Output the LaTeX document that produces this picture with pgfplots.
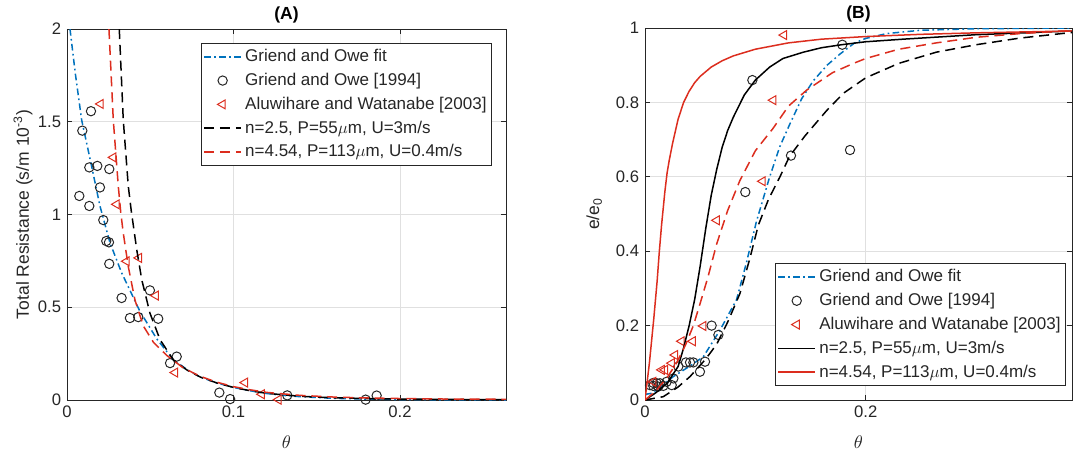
\documentclass[border=0pt]{standalone}
\usepackage{fontspec}
\setmainfont{Liberation Sans}
\usepackage{pgfplots}
\pgfplotsset{compat=1.18}
\definecolor{mblue}{RGB}{0,114,189}
\definecolor{mred}{RGB}{220,45,30}
\definecolor{mgray}{RGB}{38,38,38}
\definecolor{gridc}{RGB}{224,224,224}
\pgfplotsset{
  every axis title/.style={at={(axis description cs:0.5,1.038)}, anchor=center,
    font=\fontsize{10.5}{12}\selectfont\bfseries},
  myaxis/.style={
    scale only axis,
    axis line style={mgray,line width=0.5pt},
    tick style={mgray,line width=0.5pt},
    tick align=inside,
    major tick length=3pt,
    grid=major,
    major grid style={gridc,line width=0.5pt},
    ticklabel style={font=\fontsize{10}{12}\selectfont, text=mgray},
    /pgf/number format/assume math mode=true,
    label style={font=\fontsize{10.5}{12}\selectfont, text=mgray},
    legend cell align=left,
    legend style={font=\fontsize{10.2}{12}\selectfont, draw=mgray, line width=0.5pt, fill=white,
      inner xsep=1pt, inner ysep=1.5pt, row sep=1.4pt, text=mgray},
    legend image code/.code={\draw[mark repeat=2,mark phase=2,#1] plot coordinates {(0cm,0cm) (0.39cm,0cm) (0.78cm,0cm)};},
    clip mode=individual,
  },
  fitline/.style={mblue, line width=0.9pt, dash pattern=on 4pt off 2pt on 1pt off 2pt},
  circ/.style={only marks, mark=o, mark size=2.8pt, mark options={draw=mgray,line width=0.6pt}},
  tri/.style={only marks, mark=triangle, mark size=3.1pt, mark options={draw=mred,line width=0.6pt,rotate=90}},
}
\begin{document}
\begin{tikzpicture}
\path[use as bounding box] (-40.2pt,-34.2pt) rectangle (604.2pt,240pt);
% ---------------- (A) ----------------
\begin{axis}[myaxis,
  at={(0pt,0pt)}, anchor=south west,
  width=263.4pt, height=222.6pt,
  xmin=0, xmax=0.2637, ymin=0, ymax=2,
  xtick={0,0.1,0.2}, ytick={0,0.5,1,1.5,2},
  title={(A)},
  xlabel={$\theta$}, xlabel style={at={(axis description cs:0.5,-0.113)},anchor=center},
  ylabel={Total Resistance (s/m 10\textsuperscript{-3})},
  ylabel style={at={(axis description cs:-0.100,0.5)},anchor=center},
  legend style={at={(axis description cs:0.968,0.962)},anchor=north east},
]
\addplot[fitline] coordinates {
(0.0018,2.0) (0.005,1.76) (0.0088,1.51) (0.0148,1.26) (0.0198,1.046) (0.0258,0.848)
(0.0328,0.686) (0.0438,0.478) (0.0539,0.33) (0.0639,0.216) (0.072,0.165) (0.08,0.124)
(0.09,0.092) (0.1,0.068) (0.11,0.05) (0.12,0.035) (0.13,0.025) (0.14,0.018) (0.16,0.009)
(0.18,0.005) (0.2,0.002) (0.23,0.001) (0.2637,0.0)};
\addlegendentry{Griend and Owe fit}
\addplot[circ] coordinates {
(0.0092,1.452) (0.0144,1.557) (0.0134,1.254) (0.0182,1.262) (0.0254,1.245) (0.0198,1.146)
(0.0074,1.10) (0.0134,1.046) (0.0218,0.97) (0.0236,0.857) (0.0252,0.85) (0.0254,0.734)
(0.0328,0.55) (0.0498,0.591) (0.0378,0.442) (0.0428,0.447) (0.0548,0.438) (0.0659,0.234)
(0.0619,0.199) (0.0915,0.040) (0.098,0.005) (0.1323,0.025) (0.1794,0.002) (0.186,0.024)};
\addlegendentry{Griend and Owe [1994]}
\addplot[tri] coordinates {
(0.0202,1.596) (0.0278,1.308) (0.0298,1.055) (0.0358,0.748) (0.0432,0.766) (0.0533,0.563)
(0.0649,0.148) (0.1069,0.094) (0.117,0.031) (0.127,0.002)};
\addlegendentry{Aluwihare and Watanabe [2003]}
\addplot[black, line width=0.9pt, dash pattern=on 6pt off 3.5pt] coordinates {
(0.0314,2.0) (0.0338,1.51) (0.0368,1.154) (0.0386,1.02) (0.0419,0.81) (0.0449,0.649)
(0.0498,0.469) (0.0559,0.325) (0.0639,0.216) (0.072,0.162) (0.08,0.124) (0.09,0.092)
(0.1,0.068) (0.11,0.05) (0.12,0.036) (0.14,0.02) (0.16,0.012) (0.18,0.008) (0.2,0.005)
(0.23,0.003) (0.2637,0.002)};
\addlegendentry{n=2.5, P=55$\mu$m, U=3m/s}
\addplot[mred, line width=0.9pt, dash pattern=on 6pt off 3.5pt] coordinates {
(0.0252,2.0) (0.0278,1.51) (0.0308,1.154) (0.0323,1.01) (0.0338,0.90) (0.0368,0.72)
(0.0408,0.54) (0.0458,0.40) (0.052,0.31) (0.06,0.24) (0.07,0.172) (0.08,0.128) (0.09,0.096)
(0.1,0.072) (0.11,0.055) (0.12,0.041) (0.14,0.025) (0.16,0.016) (0.18,0.011) (0.2,0.008)
(0.23,0.005) (0.2637,0.004)};
\addlegendentry{n=4.54, P=113$\mu$m, U=0.4m/s}
\end{axis}
% ---------------- (B) ----------------
\begin{axis}[myaxis,
  at={(346.8pt,0pt)}, anchor=south west,
  width=256.2pt, height=223.2pt,
  xmin=0, xmax=0.387, ymin=0, ymax=1,
  xtick={0,0.2}, ytick={0,0.2,0.4,0.6,0.8,1},
  title={(B)},
  xlabel={$\theta$}, xlabel style={at={(axis description cs:0.5,-0.113)},anchor=center},
  ylabel={e/e\textsubscript{0}},
  ylabel style={at={(axis description cs:-0.119,0.5)},anchor=center},
  legend style={at={(axis description cs:0.986,0.038)},anchor=south east},
]
\addplot[fitline] coordinates {
(0,0.015) (0.006,0.018) (0.0106,0.027) (0.0257,0.063) (0.04,0.09) (0.0528,0.116) (0.068,0.188)
(0.083,0.27) (0.092,0.37) (0.101,0.48) (0.113,0.60) (0.122,0.68) (0.131,0.74) (0.142,0.81)
(0.1525,0.858) (0.165,0.9) (0.1767,0.93) (0.19,0.96) (0.2,0.972) (0.219,0.985) (0.25,0.994)
(0.3,0.998) (0.387,1.0)};
\addlegendentry{Griend and Owe fit}
\addplot[circ] coordinates {
(0.0973,0.86) (0.1323,0.657) (0.1858,0.672) (0.0909,0.559) (0.1788,0.955) (0.0604,0.20)
(0.0665,0.175) (0.0544,0.103) (0.0498,0.076) (0.0438,0.101) (0.0408,0.101) (0.0371,0.101)
(0.0302,0.09) (0.0257,0.058) (0.0242,0.04) (0.0196,0.049) (0.0166,0.038) (0.0136,0.045)
(0.012,0.036) (0.0106,0.045) (0.0075,0.038) (0.0075,0.046) (0.0045,0.04)};
\addlegendentry{Griend and Owe [1994]}
\addplot[tri] coordinates {
(0.126,0.981) (0.1163,0.806) (0.1066,0.588) (0.065,0.483) (0.0528,0.199) (0.0432,0.158)
(0.0332,0.158) (0.0272,0.121) (0.0242,0.099) (0.0181,0.081) (0.0151,0.081) (0.0075,0.049)};
\addlegendentry{Aluwihare and Watanabe [2003]}
\addplot[black, line width=0.9pt] coordinates {
(0,0) (0.01,0.02) (0.02,0.045) (0.03,0.09) (0.035,0.14) (0.04,0.2) (0.045,0.27) (0.05,0.36)
(0.055,0.46) (0.06,0.55) (0.065,0.62) (0.07,0.68) (0.075,0.725) (0.08,0.76) (0.09,0.82)
(0.1,0.86) (0.113,0.895) (0.125,0.918) (0.1435,0.935) (0.16,0.947) (0.178,0.955) (0.2,0.963)
(0.234,0.97) (0.3,0.982) (0.387,0.992)};
\addlegendentry{n=2.5, P=55$\mu$m, U=3m/s}
\addplot[mred, line width=0.9pt] coordinates {
(0,0) (0.004,0.1) (0.008,0.22) (0.011,0.32) (0.013,0.4) (0.015,0.47) (0.018,0.56) (0.02,0.61)
(0.022,0.645) (0.025,0.69) (0.03,0.755) (0.035,0.80) (0.04,0.83) (0.045,0.853) (0.05,0.87)
(0.06,0.895) (0.07,0.912) (0.08,0.925) (0.1,0.943) (0.13,0.96) (0.16,0.97) (0.2,0.977)
(0.25,0.983) (0.3,0.987) (0.387,0.992)};
\addlegendentry{n=4.54, P=113$\mu$m, U=0.4m/s}
\addplot[black, line width=0.9pt, dash pattern=on 6pt off 3.5pt, forget plot] coordinates {
(0,0) (0.0166,0.009) (0.03,0.035) (0.0408,0.063) (0.055,0.11) (0.065,0.15) (0.075,0.21)
(0.086,0.286) (0.095,0.38) (0.1027,0.47) (0.112,0.54) (0.1223,0.60) (0.131,0.655) (0.145,0.71)
(0.1646,0.778) (0.18,0.825) (0.2,0.866) (0.23,0.905) (0.264,0.935) (0.3,0.955) (0.34,0.973)
(0.387,0.988)};
\addplot[mred, line width=0.9pt, dash pattern=on 6pt off 3.5pt, forget plot] coordinates {
(0,0) (0.01,0.025) (0.02,0.06) (0.0287,0.1) (0.037,0.15) (0.0438,0.2) (0.05,0.26) (0.057,0.33)
(0.065,0.42) (0.075,0.51) (0.086,0.59) (0.1,0.67) (0.116,0.73) (0.13,0.79) (0.1465,0.833)
(0.17,0.88) (0.189,0.905) (0.2,0.918) (0.23,0.943) (0.264,0.96) (0.3,0.975) (0.34,0.985)
(0.387,0.993)};
\end{axis}
\end{tikzpicture}
\end{document}
